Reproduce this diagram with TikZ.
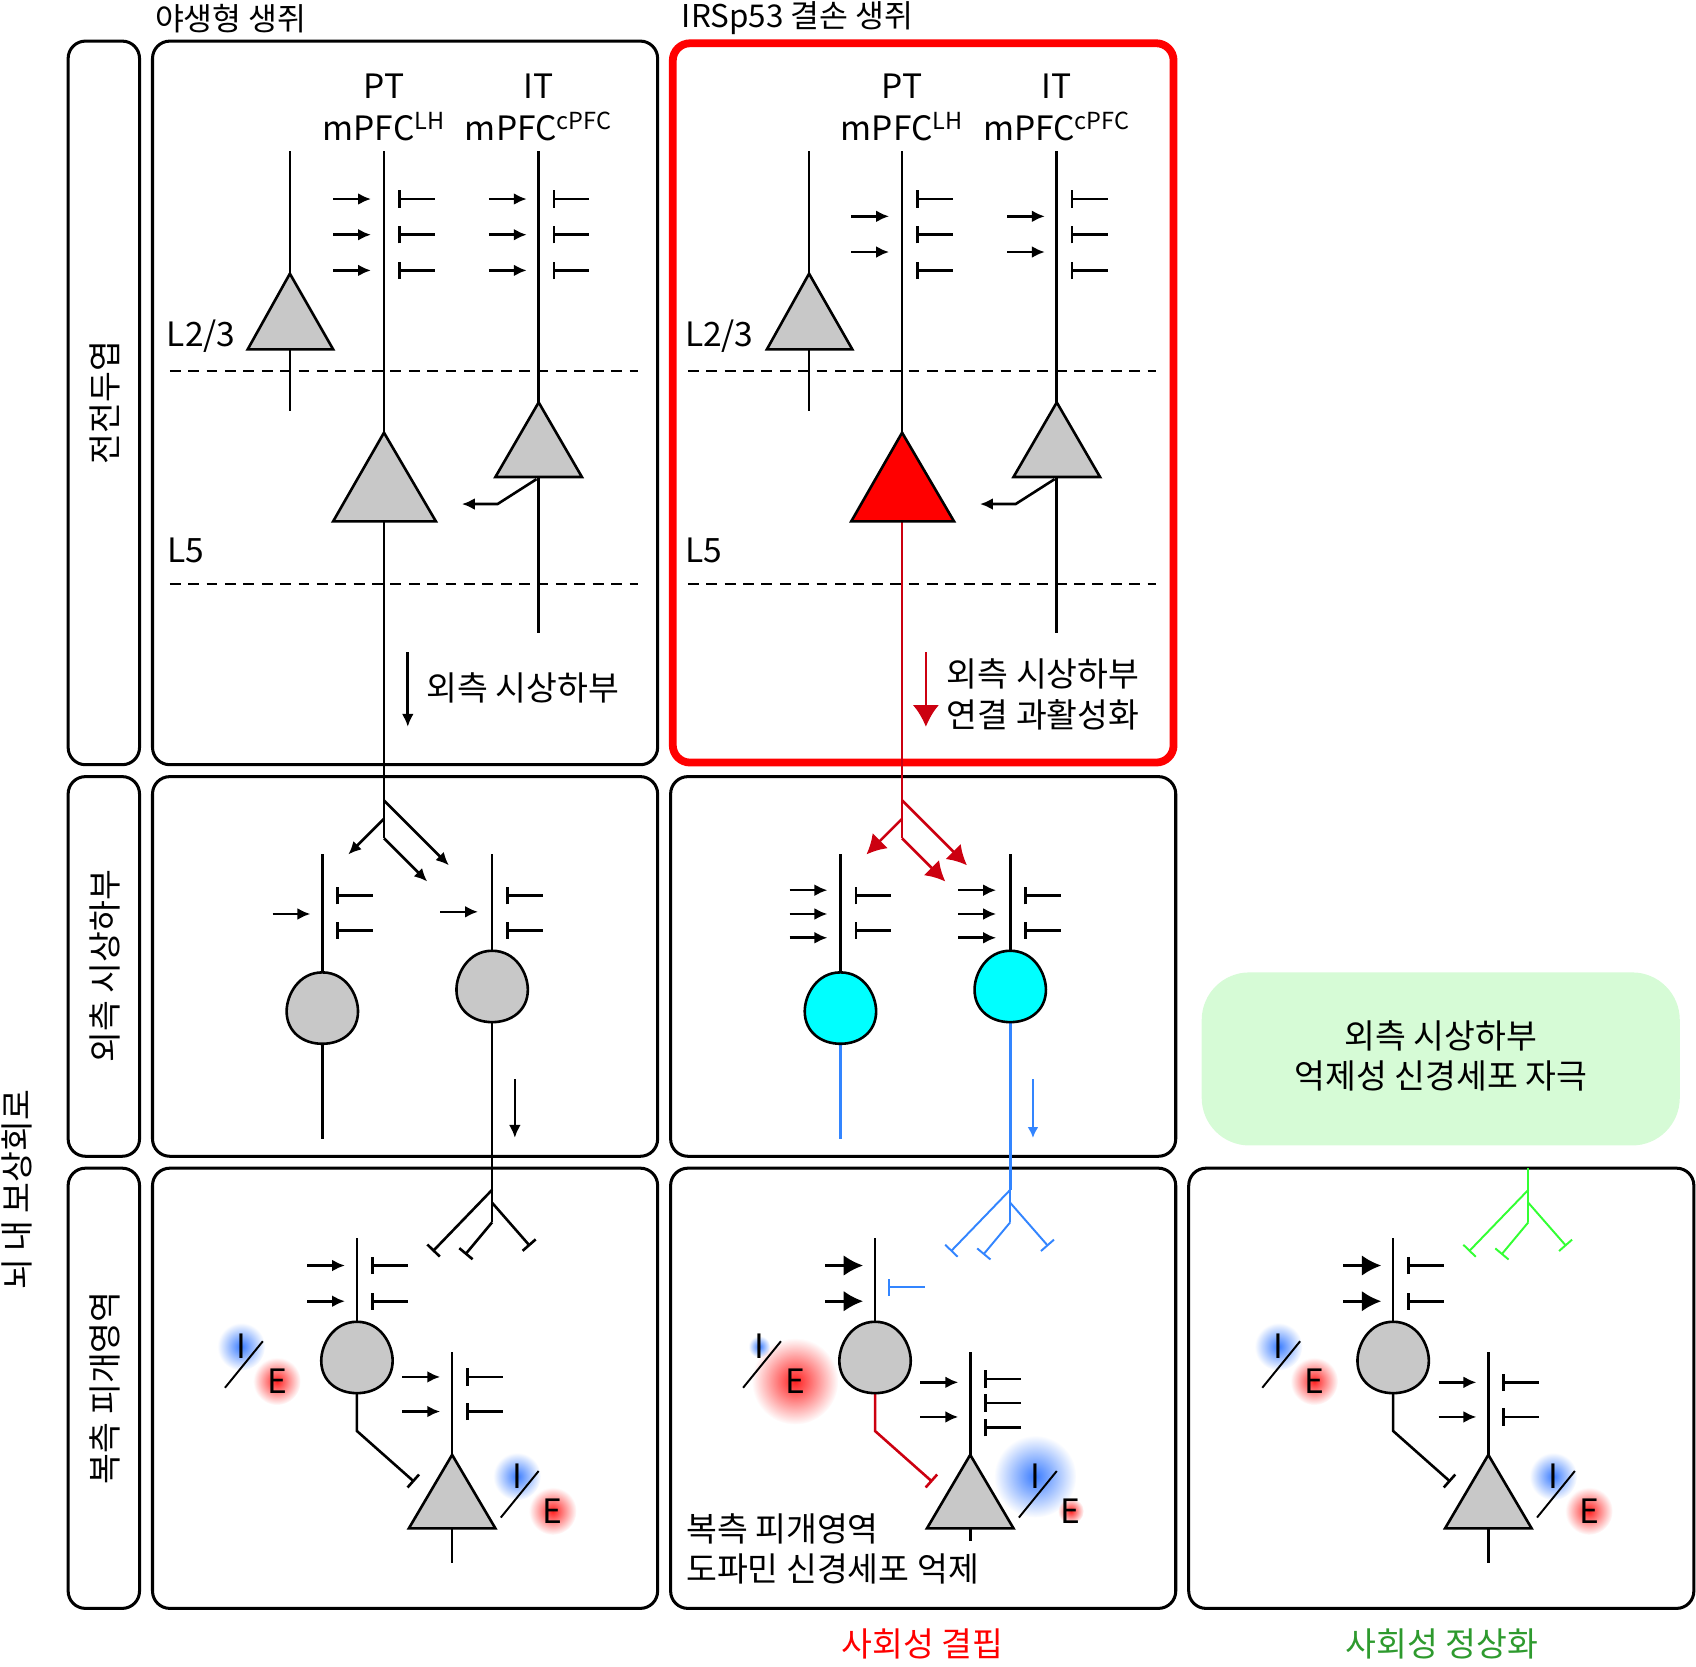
\documentclass[tikz,border=0pt]{standalone}
\usepackage{fontspec}
\setmainfont{Noto Sans CJK KR}
\usetikzlibrary{arrows.meta,fadings}
\definecolor{cellgray}{HTML}{C8C8C8}
\definecolor{axred}{HTML}{CC0010}
\definecolor{axblue}{HTML}{3385FF}
\definecolor{axgreen}{HTML}{33FF33}
\definecolor{somacyan}{HTML}{00FFFF}
\definecolor{txtgreen}{HTML}{2E9A2E}
\definecolor{boxgreen}{HTML}{D6FBD6}
\definecolor{iblue}{HTML}{3A7CFF}
\definecolor{ered}{HTML}{FF2020}
\tikzfading[name=glow, inner color=transparent!0, outer color=transparent!100]
\tikzset{
  frame/.style={line width=1.4pt, rounded corners=8pt},
  ax/.style={line width=1.2pt},
  thin ax/.style={line width=0.9pt},
  inp/.style={ax, -{Latex[length=6pt,width=5.5pt]}},
  big inp/.style={ax, -{Latex[length=9pt,width=9.5pt]}},
  tbar/.style={ax, {Bar[width=8pt,line width=1.2pt]}-},
  tend/.style={ax, -{Bar[width=8pt,line width=1.2pt]}},
  pyr/.style={ax, fill=cellgray},
  lbl/.style={font=\fontsize{15.5pt}{18.5pt}\selectfont, inner sep=1pt},
  head/.style={font=\fontsize{14.5pt}{17pt}\selectfont, inner sep=1pt, anchor=west},
  pics/soma/.style={code={
    \draw[ax, fill=#1] (0,-33) .. controls (22,-33) and (33,-12) .. (33,3)
      .. controls (33,22) and (18,33) .. (0,33) .. controls (-18,33) and (-33,22) .. (-33,3)
      .. controls (-33,-12) and (-22,-33) .. (0,-33);}},
}
% I/E balance mark: position of I, glow radius of I, glow radius of E
\newcommand\iebal[4]{%
  \fill[iblue, path fading=glow] (#1,#2) circle (#3);
  \fill[ered, path fading=glow] (#1+33,#2+32) circle (#4);
  \node[lbl] at (#1,#2) {I};
  \node[lbl] at (#1+33,#2+32) {E};
  \draw[thin ax] (#1-15,#2+38) -- (#1+20,#2-5);}
\begin{document}
\begin{tikzpicture}[x=0.5pt, y=-0.5pt]
\useasboundingbox (0,0) rectangle (1568,1541);
% frames
\draw[frame] (63,38) rectangle (129,707);
\draw[frame] (63,718) rectangle (129,1069);
\draw[frame] (63,1080) rectangle (129,1487);
\foreach \x in {141,620} {
  \draw[frame] (\x,718) rectangle (\x+467,1069);
  \draw[frame] (\x,1080) rectangle (\x+467,1487);}
\draw[frame] (141,38) rectangle (608,707);
\draw[frame] (1099,1080) rectangle (1566,1487);
\draw[red, line width=3.6pt, rounded corners=8pt] (622,40) rectangle (1085,705);
\fill[boxgreen, rounded corners=22pt] (1111,899) rectangle (1553,1059);
% side and header labels
\node[lbl, rotate=90] (pfc) at (97,372) {전전두엽};
\node[lbl, rotate=90] (lh) at (97,893) {외측 시상하부};
\node[lbl, rotate=90] (vta) at (97,1283) {복측 피개영역};
\node[lbl, rotate=90] (reward) at (16,1100) {뇌 내 보상회로};
\node[head] (wt) at (141,17) {야생형 생쥐};
\node[head] (ko) at (628,17) {IRSp53 결손 생쥐};
\node[lbl, text=red] (deficit) at (853,1520) {사회성 결핍};
\node[lbl, text=txtgreen] (rescue) at (1333,1520) {사회성 정상화};
\node[lbl, align=center] (stim) at (1332,976) {외측 시상하부\\억제성 신경세포 자극};

% ---- PFC, wild type
\draw[ax] (268,140) -- (268,380);
\draw[pyr] (268,253) -- (308,323) -- (229,323) -- cycle;
\draw[ax] (355,140) -- (355,740);
\draw[pyr] (355,400) -- (403,482) -- (308,482) -- cycle;
\draw[ax] (498,140) -- (498,585);
\draw[pyr] (498,372) -- (538,441) -- (458,441) -- cycle;
\draw[inp] (496,443) -- (460,466) -- (427,466);
\foreach \y in {184,217,250} {
  \draw[inp] (308,\y) -- (343,\y); \draw[tbar] (368,\y) -- (402,\y);
  \draw[inp] (452,\y) -- (487,\y); \draw[tbar] (511,\y) -- (545,\y);}
\foreach \y in {343,540} \draw[ax, dash pattern=on 5pt off 3.5pt] (157,\y) -- (590,\y);
\node[lbl] (pt1) at (355,80) {PT};
\node[lbl] (pth1) at (355,117) {mPFC\textsuperscript{LH}};
\node[lbl] (it1) at (498,80) {IT};
\node[lbl] (ith1) at (498,117) {mPFC\textsuperscript{cPFC}};
\node[lbl] (l23a) at (186,311) {L2/3};
\node[lbl] (l5a) at (172,509) {L5};
\draw[inp] (377,603) -- (377,672);
\node[lbl, anchor=west] (toLH1) at (392,636) {외측 시상하부};

% ---- PFC, IRSp53 KO
\draw[ax] (748,140) -- (748,380);
\draw[pyr] (748,253) -- (788,323) -- (709,323) -- cycle;
\draw[ax] (834,140) -- (834,400);
\draw[ax, axred] (834,482) -- (834,740);
\draw[ax, fill=red] (834,400) -- (882,482) -- (787,482) -- cycle;
\draw[ax] (977,140) -- (977,585);
\draw[pyr] (977,372) -- (1017,441) -- (937,441) -- cycle;
\draw[inp] (975,443) -- (939,466) -- (906,466);
\foreach \y in {200,233} {
  \draw[inp] (787,\y) -- (822,\y); \draw[inp] (931,\y) -- (966,\y);}
\foreach \y in {184,217,250} {
  \draw[tbar] (847,\y) -- (881,\y); \draw[tbar] (990,\y) -- (1024,\y);}
\foreach \y in {343,540} \draw[ax, dash pattern=on 5pt off 3.5pt] (636,\y) -- (1069,\y);
\node[lbl] (pt2) at (834,80) {PT};
\node[lbl] (pth2) at (834,117) {mPFC\textsuperscript{LH}};
\node[lbl] (it2) at (977,80) {IT};
\node[lbl] (ith2) at (977,117) {mPFC\textsuperscript{cPFC}};
\node[lbl] (l23b) at (665,311) {L2/3};
\node[lbl] (l5b) at (651,509) {L5};
\draw[ax, axred, -{Latex[length=10pt,width=12pt]}] (856,603) -- (856,672);
\node[lbl, anchor=west, align=left] (toLH2) at (873,642) {외측 시상하부\\연결 과활성화};

% ---- LH, wild type
\draw[ax] (355,740) -- (355,775);
\draw[inp] (355,757) -- (322,790);
\draw[inp] (355,740) -- (415,800);
\draw[inp] (355,775) -- (395,815);
\draw[ax] (298,790) -- (298,1053);
\pic at (298,932) {soma=cellgray};
\draw[inp] (252,845) -- (287,845);
\draw[ax] (455,790) -- (455,1100);
\pic at (455,912) {soma=cellgray};
\draw[inp] (407,843) -- (442,843);
\foreach \y in {828,860} {
  \draw[tbar] (311,\y) -- (345,\y); \draw[tbar] (468,\y) -- (502,\y);}
\draw[inp] (476,998) -- (476,1052);

% ---- LH, IRSp53 KO
\draw[ax, axred] (834,740) -- (834,775);
\draw[ax, axred, -{Latex[length=9pt,width=10pt]}] (834,757) -- (801,790);
\draw[ax, axred, -{Latex[length=9pt,width=10pt]}] (834,740) -- (894,800);
\draw[ax, axred, -{Latex[length=9pt,width=10pt]}] (834,775) -- (874,815);
\draw[ax] (777,790) -- (777,900);
\draw[ax, axblue] (777,960) -- (777,1053);
\pic at (777,932) {soma=somacyan};
\draw[ax] (934,790) -- (934,880);
\draw[ax, axblue] (934,940) -- (934,1100);
\pic at (934,912) {soma=somacyan};
\foreach \y in {823,845,867} {
  \draw[inp] (730,\y) -- (765,\y); \draw[inp] (886,\y) -- (921,\y);}
\foreach \y in {828,860} {
  \draw[tbar] (790,\y) -- (824,\y); \draw[tbar] (947,\y) -- (981,\y);}
\draw[thin ax, axblue, -{Latex[length=5pt,width=5pt]}] (955,998) -- (955,1052);

% ---- VTA, three columns
\foreach \dx/\col/\lw/\stub in {0/black/ax/1445, 479/axblue/thin ax/1425, 958/axgreen/thin ax/1445} {
  \begin{scope}[shift={(\dx,0)}]
    \draw[\lw, \col] (455,1080) -- (455,1130);
    \draw[\lw, \col, -{Bar[width=8pt]}] (455,1100) -- (400,1157);
    \draw[\lw, \col, -{Bar[width=8pt]}] (455,1112) -- (490,1152);
    \draw[\lw, \col, -{Bar[width=8pt]}] (455,1130) -- (430,1160);
    \draw[ax] (330,1145) -- (330,1225);
    \draw[ax] (418,1250) -- (418,\stub);
    \draw[pyr] (418,1345) -- (458,1413) -- (378,1413) -- cycle;
  \end{scope}}
% wild type
\draw[tend] (330,1288) -- (330,1323) -- (383,1370);
\pic at (330,1255) {soma=cellgray};
\foreach \y in {1170,1203} {\draw[inp] (284,\y) -- (319,\y); \draw[tbar] (343,\y) -- (377,\y);}
\foreach \y in {1273,1305} {\draw[inp] (372,\y) -- (407,\y); \draw[tbar] (431,\y) -- (465,\y);}
\iebal{223}{1245}{22}{22}
\iebal{478}{1365}{22}{22}
% IRSp53 KO
\draw[ax, axred, -{Bar[width=8pt]}] (809,1288) -- (809,1323) -- (862,1370);
\pic at (809,1255) {soma=cellgray};
\foreach \y in {1170,1203} \draw[big inp] (763,\y) -- (798,\y);
\draw[thin ax, axblue, {Bar[width=8pt]}-] (821,1190) -- (855,1190);
\foreach \y in {1278,1310} \draw[inp] (851,\y) -- (886,\y);
\foreach \y in {1275,1297,1320} \draw[tbar] (910,\y) -- (944,\y);
\iebal{702}{1245}{10}{40}
\iebal{957}{1365}{38}{12}
\node[lbl, anchor=west, align=left] (vtatxt) at (632,1432) {복측 피개영역\\도파민 신경세포 억제};
% rescue
\draw[tend] (1288,1288) -- (1288,1323) -- (1341,1370);
\pic at (1288,1255) {soma=cellgray};
\foreach \y in {1170,1203} {\draw[big inp] (1242,\y) -- (1277,\y); \draw[tbar] (1301,\y) -- (1335,\y);}
\foreach \y in {1278,1310} {\draw[inp] (1330,\y) -- (1365,\y); \draw[tbar] (1389,\y) -- (1423,\y);}
\iebal{1182}{1245}{22}{22}
\iebal{1436}{1365}{22}{22}
\end{tikzpicture}
\end{document}
